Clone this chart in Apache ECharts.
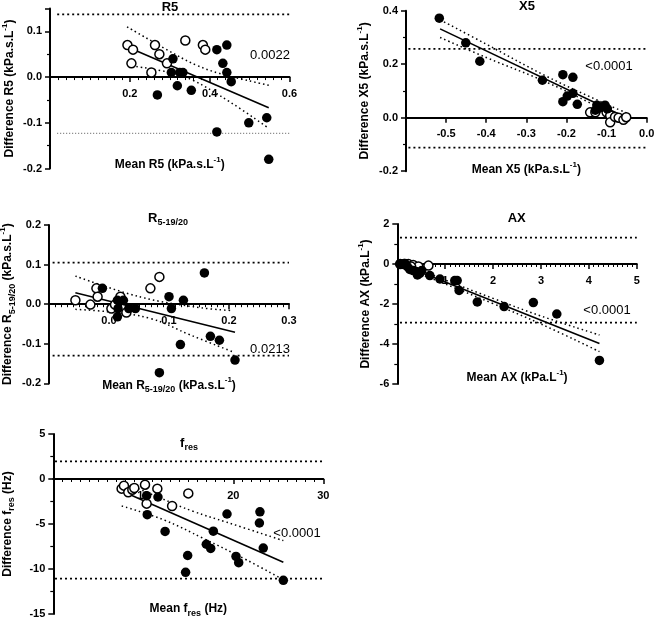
<!DOCTYPE html>
<html><head><meta charset="utf-8">
<script src="https://cdn.jsdelivr.net/npm/echarts@6/dist/echarts.min.js"></script>
<style>html,body{margin:0;padding:0;background:#fff}#c{width:655px;height:620px}</style>
</head><body><div id="c"></div>
<script>
// ---------- R5 ----------
const r5Open = [[0.194,0.070],[0.208,0.060],[0.204,0.030],[0.254,0.010],[0.263,0.070],[0.274,0.050],[0.293,0.030],[0.339,0.080],[0.383,0.070],[0.389,0.060]];
const r5Filled = [[0.269,-0.039],[0.308,0.040],[0.304,0.010],[0.319,-0.019],[0.325,0.010],[0.333,0.010],[0.354,-0.029],[0.418,0.060],[0.443,0.070],[0.433,0.030],[0.443,0.010],[0.454,-0.010],[0.418,-0.120],[0.498,-0.100],[0.543,-0.089],[0.548,-0.180]];
const r5Reg = [[0.194,0.066],[0.548,-0.067]];
const r5CiUp = [[0.193,0.110],[0.317,0.048],[0.367,0.026],[0.425,0.008],[0.548,-0.018]];
const r5CiLo = [[0.194,0.026],[0.300,0.010],[0.358,-0.007],[0.450,-0.054],[0.548,-0.112]];
const r5Loa = [0.137,-0.123];
const r5LoaX = [0.018,0.6];

// ---------- X5 ----------
const x5Open = [[-0.141,0.020],[-0.128,0.020],[-0.100,0.020],[-0.091,0.008],[-0.091,-0.017],[-0.079,0.003],[-0.070,0.000],[-0.058,-0.008],[-0.051,0.002]];
const x5Filled = [[-0.517,0.372],[-0.451,0.280],[-0.416,0.211],[-0.260,0.140],[-0.209,0.161],[-0.184,0.151],[-0.209,0.060],[-0.198,0.081],[-0.184,0.091],[-0.173,0.050],[-0.124,0.047],[-0.120,0.035],[-0.128,0.028],[-0.104,0.047],[-0.098,0.033],[-0.110,0.040]];
const x5Reg = [[-0.515,0.332],[-0.05,0.0]];
const x5CiUp = [[-0.515,0.366],[-0.40,0.275],[-0.25,0.155],[-0.10,0.050],[-0.05,0.018]];
const x5CiLo = [[-0.515,0.300],[-0.40,0.225],[-0.25,0.133],[-0.10,0.024],[-0.05,-0.018]];
const x5Loa = [0.257,-0.112];
const x5LoaX = [-0.594,0.0];

// ---------- R5-19/20 ----------
const r519Open = [[-0.056,0.010],[-0.031,-0.001],[-0.021,0.040],[-0.019,0.019],[0.004,-0.011],[0.010,-0.001],[0.019,0.019],[0.029,-0.021],[0.069,0.040],[0.084,0.069]];
const r519Filled = [[-0.011,0.040],[0.014,0.010],[0.015,-0.011],[0.014,-0.032],[0.024,0.010],[0.033,-0.011],[0.044,-0.011],[0.084,-0.173],[0.100,0.019],[0.104,-0.011],[0.119,-0.102],[0.124,0.010],[0.159,0.079],[0.169,-0.081],[0.184,-0.091],[0.210,-0.141]];
const r519Reg = [[-0.056,0.029],[0.210,-0.071]];
const r519CiUp = [[-0.056,0.071],[0.053,0.018],[0.153,-0.009],[0.205,-0.016]];
const r519CiLo = [[-0.056,-0.013],[-0.003,-0.019],[0.069,-0.036],[0.136,-0.078],[0.206,-0.120]];
const r519Loa = [0.105,-0.130];
const r519LoaX = [-0.094,0.3];

// ---------- AX ----------
const axOpen = [[0.06,0.0],[0.14,0.0],[0.23,0.0],[0.33,-0.05],[0.44,-0.12],[0.65,-0.08],[0.29,-0.13]];
const axFilled = [[0.06,0.0],[0.16,0.03],[0.21,-0.13],[0.26,-0.27],[0.33,-0.33],[0.39,-0.38],[0.42,-0.55],[0.47,-0.47],[0.51,-0.33],[0.68,-0.58],[0.89,-0.75],[1.20,-0.83],[1.25,-0.83],[1.29,-1.32],[1.67,-1.90],[2.23,-2.13],[2.84,-1.93],[3.33,-2.50],[4.22,-4.82]];
const axReg = [[0.056,0.0],[4.22,-3.97]];
const axCiUp = [[0.056,0.08],[1,-0.80],[2,-1.72],[3,-2.60],[4.22,-3.55]];
const axCiLo = [[0.056,-0.10],[1,-1.00],[2,-1.98],[3,-3.00],[4.22,-4.38]];
const axLoa = [1.317,-2.93];
const axLoaX = [0.056,5];

// ---------- fres ----------
const fresOpen = [[7.59,-1.07],[7.85,-0.74],[8.33,-1.48],[8.78,-1.19],[9.0,-1.0],[10.19,-0.63],[10.37,-2.74],[11.56,-1.07],[13.2,-3.0],[15.0,-1.6]];
const fresFilled = [[10.37,-1.85],[10.44,-3.96],[11.63,-2.0],[12.42,-5.82],[14.7,-10.37],[14.93,-8.5],[17.0,-7.25],[17.49,-7.72],[17.78,-5.8],[19.3,-3.89],[20.3,-8.6],[20.6,-9.3],[22.96,-3.65],[22.9,-4.89],[23.33,-7.67],[25.56,-11.26]];
const fresReg = [[7.6,-1.34],[25.56,-9.26]];
const fresCiUp = [[7.6,-0.3],[11.86,-2.1],[15.56,-3.6],[19.27,-4.8],[25.56,-6.85]];
const fresCiLo = [[7.6,-3.0],[12.22,-4.52],[16.67,-6.6],[21.5,-9.0],[25.56,-11.2]];
const fresLoa = [1.96,-11.08];
const fresLoaX = [0.19,30];

// ---------- text ----------
const titles = ['R5','X5','R{sub|5-19/20}','AX','f{sub|res}'];
const pValues = ['0.0022','<0.0001','0.0213','<0.0001','<0.0001'];
const xNames = ['Mean R5 (kPa.s.L{sup|-1})','Mean X5 (kPa.s.L{sup|-1})','Mean R{sub|5-19/20} (kPa.s.L{sup|-1})','Mean AX (kPa.L{sup|-1})','Mean f{sub|res} (Hz)'];
const yNames = ['Difference R5 (kPa.s.L{sup|-1})','Difference X5 (kPa.s.L{sup|-1})','Difference R{sub|5-19/20} (kPa.s.L{sup|-1})','Difference AX (kPa.L{sup|-1})','Difference f{sub|res} (Hz)'];

const FONT = '"Liberation Sans", Arial, Helvetica, sans-serif';
const rich = {
  sup: {fontSize: 8, fontWeight: 'bold', fontFamily: FONT, color: '#000', verticalAlign: 'top', lineHeight: 9},
  sub: {fontSize: 9, fontWeight: 'bold', fontFamily: FONT, color: '#000', verticalAlign: 'bottom', lineHeight: 9}
};

const layout = [
  {grid:{left:50, top:8.5, width:239.5, height:160},
   x:{min:0,max:0.6,interval:0.2,minor:10,dec:1}, y:{min:-0.2,max:0.15,interval:0.1,minor:2,dec:1,hideMax:true},
   xGap:79, yGap:31, title:[170,7.5], p:[270,55]},
  {grid:{left:406, top:10.7, width:240.7, height:160.5},
   x:{min:-0.6,max:0,interval:0.1,minor:0,dec:1}, y:{min:-0.2,max:0.4,interval:0.2,minor:2,dec:1},
   xGap:43, yGap:32, title:[527,6.5], p:[609,66]},
  {grid:{left:49, top:225, width:240, height:158.4},
   x:{min:-0.1,max:0.3,interval:0.1,minor:10,dec:1}, y:{min:-0.2,max:0.2,interval:0.1,minor:0,dec:1},
   xGap:72, yGap:32, title:[168,218], p:[270,349]},
  {grid:{left:397.3, top:224, width:239.5, height:160},
   x:{min:0,max:5,interval:1,minor:10,dec:0}, y:{min:-6,max:2,interval:2,minor:2,dec:0},
   xGap:105, yGap:23, title:[516.7,218], p:[607,310]},
  {grid:{left:53.3, top:434, width:270, height:180},
   x:{min:0,max:30,interval:10,minor:10,dec:0}, y:{min:-15,max:5,interval:5,minor:2,dec:0},
   xGap:121, yGap:37, title:[189,443.5], p:[297,533]}
];

const panelData = [
  {open:r5Open, filled:r5Filled, reg:r5Reg, up:r5CiUp, lo:r5CiLo, loa:r5Loa, loaX:r5LoaX},
  {open:x5Open, filled:x5Filled, reg:x5Reg, up:x5CiUp, lo:x5CiLo, loa:x5Loa, loaX:x5LoaX},
  {open:r519Open, filled:r519Filled, reg:r519Reg, up:r519CiUp, lo:r519CiLo, loa:r519Loa, loaX:r519LoaX},
  {open:axOpen, filled:axFilled, reg:axReg, up:axCiUp, lo:axCiLo, loa:axLoa, loaX:axLoaX},
  {open:fresOpen, filled:fresFilled, reg:fresReg, up:fresCiUp, lo:fresCiLo, loa:fresLoa, loaX:fresLoaX}
];

function fmt(dec){
  return function(v){ if (Math.abs(v) < 1e-9) v = 0; return Number(v).toFixed(dec); };
}

const grids = [], xAxes = [], yAxes = [], series = [], graphics = [];
layout.forEach(function(L, i){
  grids.push(Object.assign({outerBoundsMode:'none', containLabel:false}, L.grid));
  // move the x axis (line, ticks, labels, name) up to y = 0
  const zeroOffset = -L.grid.height * (0 - L.y.min) / (L.y.max - L.y.min);
  xAxes.push({
    type:'value', gridIndex:i, position:'bottom', offset:zeroOffset,
    min:L.x.min, max:L.x.max, interval:L.x.interval,
    splitLine:{show:false},
    axisLine:{onZero:false, lineStyle:{color:'#000', width:2}},
    axisTick:{show:true, length:5, lineStyle:{color:'#000', width:1.5}},
    minorTick:{show:L.x.minor>0, splitNumber:L.x.minor||5, length:3, lineStyle:{color:'#000', width:1}},
    axisLabel:{showMinLabel:false, margin:11, color:'#000', fontWeight:'bold', fontSize:11, fontFamily:FONT, formatter:fmt(L.x.dec)},
    name:xNames[i], nameLocation:'middle', nameGap:L.xGap,
    nameTextStyle:{color:'#000', fontWeight:'bold', fontSize:12, fontFamily:FONT, lineHeight:18, rich:rich}
  });
  yAxes.push({
    type:'value', gridIndex:i, min:L.y.min, max:L.y.max, interval:L.y.interval,
    splitLine:{show:false},
    axisLine:{show:true, onZero:false, lineStyle:{color:'#000', width:2}},
    axisTick:{show:true, length:5, lineStyle:{color:'#000', width:1.5}},
    minorTick:{show:L.y.minor>0, splitNumber:L.y.minor||5, length:3, lineStyle:{color:'#000', width:1.2}},
    axisLabel:{showMaxLabel:!L.y.hideMax, margin:8, color:'#000', fontWeight:'bold', fontSize:11, fontFamily:FONT, formatter:fmt(L.y.dec)},
    name:yNames[i], nameLocation:'middle', nameGap:L.yGap,
    nameTextStyle:{color:'#000', fontWeight:'bold', fontSize:12, fontFamily:FONT, lineHeight:18, rich:rich}
  });
  const D = panelData[i];
  const base = {xAxisIndex:i, yAxisIndex:i, silent:true, animation:false};
  D.loa.forEach(function(v, k){
    const faint = (i===0 && k===1);
    series.push(Object.assign({type:'line', symbol:'none', z:1,
      data:[[D.loaX[0], v],[D.loaX[1], v]],
      lineStyle:{color: faint ? '#555' : '#000', width: faint ? 1 : 1.8, type: faint ? [1,2] : [2,3]}}, base));
  });
  series.push(Object.assign({type:'line', symbol:'none', z:2, data:D.reg,
    lineStyle:{color:'#000', width:1.6}}, base));
  [D.up, D.lo].forEach(function(arr){
    series.push(Object.assign({type:'line', symbol:'none', z:2, smooth:0.4, data:arr,
      lineStyle:{color:'#000', width:1.5, type:[1.5,3]}}, base));
  });
  series.push(Object.assign({type:'scatter', symbol:'circle', symbolSize:9, z:4, data:D.open,
    itemStyle:{color:'#fff', borderColor:'#000', borderWidth:1.5, opacity:1}}, base));
  series.push(Object.assign({type:'scatter', symbol:'circle', symbolSize:9.5, z:5, data:D.filled,
    itemStyle:{color:'#000', borderColor:'#000', borderWidth:0, opacity:1}}, base));

  graphics.push({type:'text', x:L.title[0], y:L.title[1], z:10, silent:true,
    style:{text:titles[i], fill:'#000', font:'bold 13px ' + FONT, align:'center', verticalAlign:'middle', lineHeight:18,
      rich:{sub:{fontSize:9, fontWeight:'bold', fontFamily:FONT, fill:'#000', verticalAlign:'bottom', lineHeight:9}}}});
  graphics.push({type:'text', x:L.p[0], y:L.p[1], z:10, silent:true,
    style:{text:pValues[i], fill:'#000', font:'13px ' + FONT, align:'center', verticalAlign:'middle'}});
});

const chart = echarts.init(document.getElementById('c'), null, {renderer:'canvas'});
chart.setOption({
  animation:false,
  backgroundColor:'#fff',
  grid:grids, xAxis:xAxes, yAxis:yAxes, series:series, graphic:graphics
});
</script>
</body></html>
